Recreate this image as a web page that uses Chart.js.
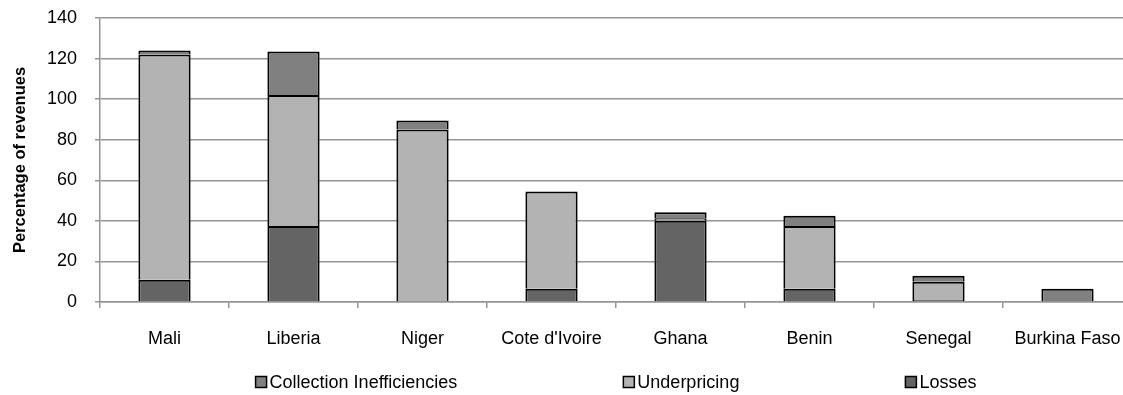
<!DOCTYPE html>
<html>
<head>
<meta charset="utf-8">
<title>Percentage of revenues</title>
<script src="https://cdn.jsdelivr.net/npm/chart.js@4/dist/chart.umd.min.js"></script>
<style>
  html, body { margin: 0; padding: 0; background: #fff; overflow: hidden; }
  #wrap { width: 1140px; height: 395px; }
</style>
</head>
<body>
<div id="wrap"><canvas id="chart" width="1140" height="395"></canvas></div>
<script>
// quasi-fiscal deficit components, % of revenues
const countries = ['Mali', 'Liberia', 'Niger', "Cote d'Ivoire", 'Ghana', 'Benin', 'Senegal', 'Burkina Faso'];
const losses = [11, 37.5, 0, 6.5, 40, 6.5, 1, 0];
const underpricing = [111, 64.5, 85, 48, 1.3, 31, 9, 0];
const collection = [2, 21.5, 4.5, 0, 3, 5, 3, 6.5];
const yTicks = [0, 20, 40, 60, 80, 100, 120, 140];

const FONT = "'Liberation Sans', Arial, sans-serif";
const GRID = '#959595';

Chart.defaults.font.family = FONT;
Chart.defaults.font.size = 18;
Chart.defaults.color = '#000';

// legend order differs from stacking order (losses sit at the bottom)
const legendItems = [
    { label: 'Collection Inefficiencies', color: '#808080' },
    { label: 'Underpricing', color: '#b3b3b3' },
    { label: 'Losses', color: '#646464' }
];

// Excel-style legend, centred under the plot area
const bottomLegend = {
    id: 'bottomLegend',
    afterDraw(chart) {
        const ctx = chart.ctx;
        const area = chart.chartArea;
        const box = 11, gap = 3, spacing = 166;
        ctx.save();
        ctx.font = '18px ' + FONT;
        const widths = legendItems.map(it => box + gap + ctx.measureText(it.label).width);
        const total = widths.reduce((a, b) => a + b, 0) + spacing * (legendItems.length - 1);
        let x = (area.left + area.right) / 2 - total / 2;
        const y = chart.height - 13;
        legendItems.forEach((it, i) => {
            ctx.fillStyle = it.color;
            ctx.fillRect(x, y - box / 2, box, box);
            ctx.strokeStyle = '#000';
            ctx.lineWidth = 1.5;
            ctx.strokeRect(x, y - box / 2, box, box);
            ctx.fillStyle = '#000';
            ctx.textAlign = 'left';
            ctx.textBaseline = 'middle';
            ctx.fillText(it.label, x + box + gap, y + 1);
            x += widths[i] + spacing;
        });
        ctx.restore();
    }
};

function barSet(label, data, color) {
    return {
        label: label,
        data: data,
        backgroundColor: color,
        borderColor: '#000',
        borderWidth: 2,
        barPercentage: 0.405,
        categoryPercentage: 1
    };
}

new Chart(document.getElementById('chart'), {
    type: 'bar',
    data: {
        labels: countries,
        datasets: [
            barSet('Losses', losses, '#646464'),
            barSet('Underpricing', underpricing, '#b3b3b3'),
            barSet('Collection Inefficiencies', collection, '#808080')
        ]
    },
    options: {
        responsive: false,
        animation: false,
        layout: { padding: { top: 18, right: 8, left: 0, bottom: 0 } },
        plugins: {
            legend: { display: false },
            tooltip: { enabled: false }
        },
        scales: {
            x: {
                stacked: true,
                grid: { offset: true, drawOnChartArea: false, drawTicks: true, tickLength: 6, color: GRID, lineWidth: 1.5 },
                border: { color: GRID, width: 1.5 },
                ticks: { padding: 20, maxRotation: 0, autoSkip: false },
                afterFit(scale) {
                    scale.height = 93;
                    scale.paddingLeft = 0;
                    scale.paddingRight = 0;
                }
            },
            y: {
                stacked: true,
                min: yTicks[0],
                max: yTicks[yTicks.length - 1],
                ticks: { stepSize: yTicks[1] - yTicks[0], padding: 18 },
                grid: { color: GRID, lineWidth: 1.5, tickLength: 5 },
                border: { color: GRID, width: 1.5 },
                title: {
                    display: true,
                    text: 'Percentage of revenues',
                    font: { size: 16.5, weight: 'bold' },
                    padding: { top: 11, bottom: 0 }
                },
                afterFit(scale) {
                    // fixed axis width; plot area spacing comes from layout padding only
                    scale.width = 100;
                    scale.paddingTop = 0;
                    scale.paddingBottom = 0;
                }
            }
        }
    },
    plugins: [bottomLegend]
});
</script>
</body>
</html>
